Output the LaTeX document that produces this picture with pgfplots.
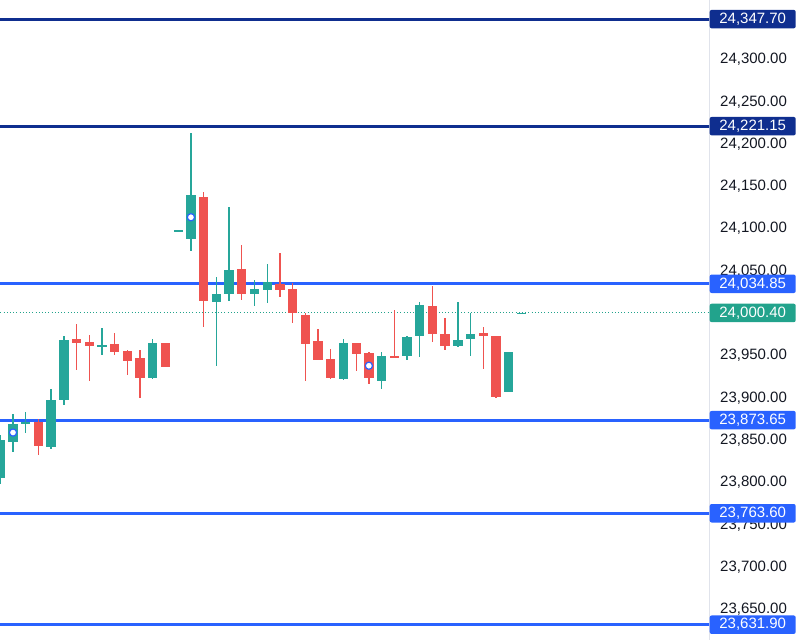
\documentclass[border=0pt]{standalone}
\usepackage{pgfplots}
\usepackage{pgfplotstable}
\pgfplotsset{compat=1.18}
\usepackage{fontspec}
\setmainfont{Liberation Sans}
\definecolor{upc}{HTML}{26A69A}
\definecolor{dnc}{HTML}{EF5350}
\definecolor{navy}{HTML}{0F2E8F}
\definecolor{bluel}{HTML}{2962FF}
\definecolor{lastc}{HTML}{22A38C}
\definecolor{txt}{HTML}{131722}
\definecolor{sep}{HTML}{E0E3EB}

\pgfplotstableread{
i o h l c
0 23805 23856 23798 23850
1 23848 23881 23836 23869
2 23869 23883 23858 23872
4 23842 23910 23840 23897
5 23897 23973 23892 23968
8 23960 23983 23951 23963
12 23924 23969 23922 23965
14 24096.5 24098 24096.5 24098
15 24087.5 24213.5 24073.6 24140
17 24014 24043 23938 24023
18 24023 24126 24014 24051
20 24023 24039.4 24008.6 24028.4
21 24028 24058.3 24011.8 24037
27 23922 23970 23921 23964.5
30 23920 23954.6 23911 23949
32 23949 23973 23945 23971.6
33 23973 24013.7 23948.7 24010
36 23961.3 24013.7 23959.8 23968.4
37 23969 24000 23949.5 23976
40 23906.6 23954 23906.6 23954
41 24000 24000.9 24000 24000.9
}\upT

\pgfplotstableread{
i o h l c
3 23872 23875 23833 23843
6 23970 23987 23933 23965
7 23966 23975 23920 23961
9 23964 23977 23951 23954
10 23956 23957 23927 23944
11 23947 23957 23900 23924
13 23965 23965 23937 23937
16 24137 24143.7 23983.5 24014.5
19 24052 24081 24016 24022.5
22 24034.6 24071 24019 24027.5
23 24029 24035.5 23988 24000
24 23998 24000 23920 23964
25 23967 23982 23945 23945
26 23946 23957.5 23922 23923
28 23965 23965 23932 23952
29 23953 23954.6 23917 23923
31 23949 24004 23947 23947.5
34 24008.6 24032.3 23966.4 23975.5
35 23975.5 23994 23956.6 23961.3
38 23977 23984 23934 23973
39 23973 23973 23899.5 23900.7
}\dnT

\begin{document}
\begin{tikzpicture}
\useasboundingbox (0,0) rectangle (800pt,640pt);
\begin{axis}[
  at={(0,0)}, anchor=south west,
  scale only axis, width=709pt, height=640pt,
  xmin=-0.024, xmax=55.76,
  ymin=23613.8, ymax=24370.3,
  clip mode=individual,
  axis x line=none,
  axis y line*=right,
  y axis line style={draw=sep, line width=0.8pt, -},
  major tick length=0pt,
  ytick={23650,23700,23750,23800,23850,23900,23950,24000,24050,24100,24150,24200,24250,24300},
  yticklabels={{23,650.00},{23,700.00},{23,750.00},{23,800.00},{23,850.00},{23,900.00},{23,950.00},{},{24,050.00},{24,100.00},{24,150.00},{24,200.00},{24,250.00},{24,300.00}},
  yticklabel style={anchor=west, inner sep=0pt, xshift=11pt, text=txt, font=\fontsize{15}{18}\selectfont},
]
% horizontal levels
\addplot[navy, line width=3pt, forget plot] coordinates {(-1,24347.70) (57,24347.70)};
\addplot[navy, line width=3pt, forget plot] coordinates {(-1,24221.15) (57,24221.15)};
\addplot[bluel, line width=3pt, forget plot] coordinates {(-1,24034.85) (57,24034.85)};
\addplot[bluel, line width=3pt, forget plot] coordinates {(-1,23873.65) (57,23873.65)};
\addplot[bluel, line width=3pt, forget plot] coordinates {(-1,23763.60) (57,23763.60)};
\addplot[bluel, line width=3pt, forget plot] coordinates {(-1,23631.90) (57,23631.90)};
\addplot[lastc, line width=1pt, dash pattern=on 1pt off 2.2pt, forget plot] coordinates {(-1,24000.40) (57,24000.40)};
% wicks
\addplot[draw=none, mark=none, forget plot, error bars/.cd, y dir=both, y explicit, error mark=none,
  error bar style={draw=upc, line width=1.3pt}]
  table[x=i, y expr={(\thisrow{h}+\thisrow{l})/2}, y error expr={(\thisrow{h}-\thisrow{l})/2}] {\upT};
\addplot[draw=none, mark=none, forget plot, error bars/.cd, y dir=both, y explicit, error mark=none,
  error bar style={draw=dnc, line width=1.3pt}]
  table[x=i, y expr={(\thisrow{h}+\thisrow{l})/2}, y error expr={(\thisrow{h}-\thisrow{l})/2}] {\dnT};
% bodies
\addplot[draw=none, mark=none, forget plot, error bars/.cd, y dir=both, y explicit, error mark=none,
  error bar style={draw=upc, line width=9.3pt}]
  table[x=i, y expr={(\thisrow{o}+\thisrow{c})/2}, y error expr={abs(\thisrow{c}-\thisrow{o})/2}] {\upT};
\addplot[draw=none, mark=none, forget plot, error bars/.cd, y dir=both, y explicit, error mark=none,
  error bar style={draw=dnc, line width=9.3pt}]
  table[x=i, y expr={(\thisrow{o}+\thisrow{c})/2}, y error expr={abs(\thisrow{c}-\thisrow{o})/2}] {\dnT};
% event markers
\addplot[only marks, mark=*, mark size=3.6pt, mark options={fill=white, draw=bluel, line width=1.2pt}, forget plot]
  coordinates {(1,23859) (15,24113.5) (29,23938)};
\coordinate (A) at (axis cs:55.76,24347.70);
\coordinate (B) at (axis cs:55.76,24221.15);
\coordinate (C) at (axis cs:55.76,24034.85);
\coordinate (D) at (axis cs:55.76,24000.40);
\coordinate (E) at (axis cs:55.76,23873.65);
\coordinate (F) at (axis cs:55.76,23763.60);
\coordinate (G) at (axis cs:55.76,23631.90);
\end{axis}
\tikzset{lbl/.style={anchor=west, xshift=0.5pt, minimum width=86pt, minimum height=18.5pt, inner sep=0pt, rounded corners=2pt, text=white, font=\fontsize{15}{18}\selectfont}}
\node[lbl, fill=navy] at (A) {24,347.70};
\node[lbl, fill=navy] at (B) {24,221.15};
\node[lbl, fill=bluel] at (C) {24,034.85};
\node[lbl, fill=lastc] at (D) {24,000.40};
\node[lbl, fill=bluel] at (E) {23,873.65};
\node[lbl, fill=bluel] at (F) {23,763.60};
\node[lbl, fill=bluel] at (G) {23,631.90};
\end{tikzpicture}
\end{document}
